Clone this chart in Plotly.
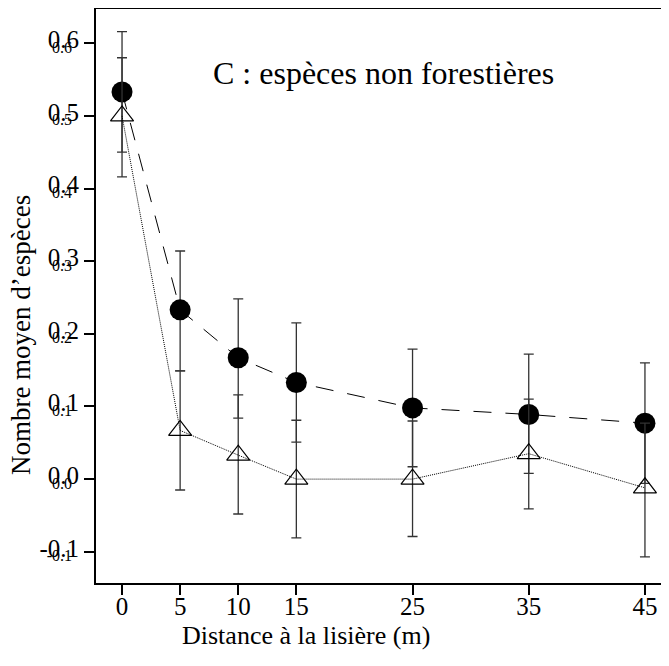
import plotly.graph_objects as go

# Distance from the forest edge (m)
distance = [0, 5, 10, 15, 25, 35, 45]

# filled circles (dashed line)
circ_mean = [0.533, 0.233, 0.167, 0.133, 0.098, 0.089, 0.077]
circ_hi = [0.616, 0.314, 0.248, 0.215, 0.179, 0.172, 0.160]
circ_lo = [0.450, 0.149, 0.084, 0.051, 0.017, 0.008, -0.006]

# open triangles (dotted line)
tri_mean = [0.500, 0.067, 0.033, 0.000, 0.000, 0.035, -0.012]
tri_hi = [0.580, 0.149, 0.116, 0.081, 0.080, 0.110, 0.077]
tri_lo = [0.416, -0.015, -0.048, -0.081, -0.079, -0.041, -0.107]

y_ticks = [-0.1, 0.0, 0.1, 0.2, 0.3, 0.4, 0.5, 0.6]
y_ticklabels = ["-0.1", "0.0", "0.1", "0.2", "0.3", "0.4", "0.5", "0.6"]

FONT = "Liberation Serif, Times New Roman, serif"


def err(mean, hi, lo):
    return dict(
        type="data",
        symmetric=False,
        array=[h - m for h, m in zip(hi, mean)],
        arrayminus=[m - l for m, l in zip(mean, lo)],
        color="#333333",
        thickness=1.3,
        width=5,
    )


fig = go.Figure()

fig.add_trace(
    go.Scatter(
        x=distance,
        y=circ_mean,
        mode="lines+markers",
        line=dict(color="black", width=1, dash="18px,14px"),
        marker=dict(symbol="circle", size=21, color="black"),
        error_y=err(circ_mean, circ_hi, circ_lo),
        showlegend=False,
    )
)

fig.add_trace(
    go.Scatter(
        x=distance,
        y=tri_mean,
        mode="lines+markers",
        line=dict(color="black", width=1, dash="1px,1px"),
        marker=dict(symbol="triangle-up-open", size=20, color="black", line=dict(width=1.2)),
        error_y=err(tri_mean, tri_hi, tri_lo),
        showlegend=False,
    )
)

# second (small) set of y tick labels, overlapping the big ones
fig.add_trace(
    go.Scatter(x=[None], y=[None], yaxis="y2", showlegend=False, hoverinfo="skip")
)

fig.add_annotation(
    text="C : espèces non forestières",
    xref="paper", yref="paper", x=0.501, y=0.922, xanchor="center",
    showarrow=False, font=dict(family=FONT, size=32, color="black"),
)
fig.add_annotation(
    text="Distance à la lisière (m)",
    xref="paper", yref="paper", x=0.366, y=-0.092, xanchor="center", yanchor="middle",
    showarrow=False, font=dict(family=FONT, size=26, color="black"),
)
fig.add_annotation(
    text="Nombre moyen d\u2019espèces",
    xref="paper", yref="paper", x=-0.131, y=0.431, textangle=-90,
    xanchor="center", yanchor="middle",
    showarrow=False, font=dict(family=FONT, size=27, color="black"),
)

# top frame line
fig.add_shape(
    type="line", xref="paper", yref="paper", x0=0, x1=1, y0=1, y1=1,
    line=dict(color="black", width=2),
)

yrange = [-0.143, 0.6485]

fig.update_layout(
    width=669,
    height=666,
    margin=dict(l=88, r=8, t=0, b=91),
    plot_bgcolor="white",
    paper_bgcolor="white",
    font=dict(family=FONT, color="black"),
    xaxis=dict(
        range=[-2.24, 47.07],
        tickvals=distance,
        ticks="outside",
        ticklen=10,
        tickwidth=2,
        tickcolor="black",
        showline=True,
        linewidth=2,
        linecolor="black",
        showgrid=False,
        zeroline=False,
        automargin=False,
        tickfont=dict(family=FONT, size=25),
        ticklabelstandoff=-10,
    ),
    yaxis=dict(
        range=yrange,
        tickvals=y_ticks,
        ticktext=y_ticklabels,
        ticks="outside",
        ticklen=10,
        tickwidth=2,
        tickcolor="black",
        showline=True,
        linewidth=2,
        linecolor="black",
        showgrid=False,
        zeroline=False,
        automargin=False,
        tickfont=dict(family=FONT, size=25),
        ticklabelshift=-4,
    ),
    yaxis2=dict(
        range=yrange,
        overlaying="y",
        side="left",
        tickvals=y_ticks,
        ticktext=y_ticklabels,
        ticks="",
        showline=False,
        showgrid=False,
        zeroline=False,
        automargin=False,
        tickfont=dict(family=FONT, size=16),
        ticklabelshift=4,
        ticklabelstandoff=23,
    ),
)

fig.write_html("out.html")
